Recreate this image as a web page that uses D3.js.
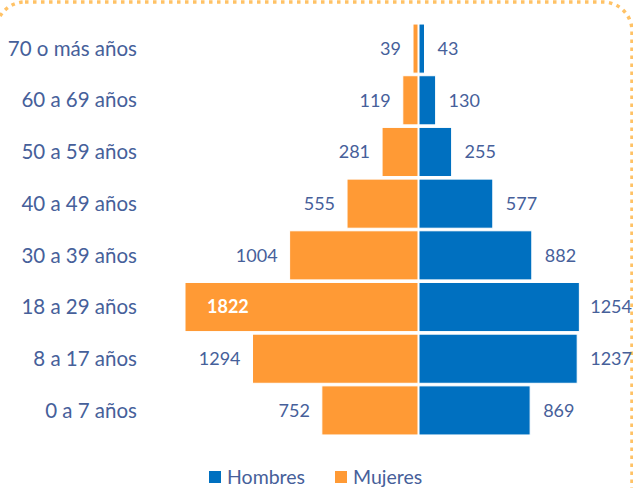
<!DOCTYPE html>
<html>
<head>
<meta charset="utf-8">
<script src="https://cdn.jsdelivr.net/npm/d3@7"></script>
<style>
  html, body { margin: 0; padding: 0; background: #fff; }
  svg { display: block; font-family: Lato, "Open Sans", sans-serif; }
</style>
</head>
<body>
<svg width="633" height="488"></svg>
<script>
// Chart data
var ageGroups = ["70 o más años", "60 a 69 años", "50 a 59 años", "40 a 49 años",
                 "30 a 39 años", "18 a 29 años", "8 a 17 años", "0 a 7 años"];
var hombres = [43, 130, 255, 577, 882, 1254, 1237, 869];
var mujeres = [39, 119, 281, 555, 1004, 1822, 1294, 752];
var seriesNames = ["Hombres", "Mujeres"];

var colorHombres = "#0070C0";
var colorMujeres = "#FF9A35";
var textColor = "#46609A";

var svg = d3.select("svg"),
    width = +svg.attr("width"),
    height = +svg.attr("height");

var centerX = 418;

// dotted frame
svg.append("rect")
    .attr("x", -4).attr("y", 2)
    .attr("width", 636).attr("height", 620)
    .attr("rx", 29).attr("ry", 29)
    .attr("fill", "none")
    .attr("stroke", "#FFC266")
    .attr("stroke-width", 3.5)
    .attr("stroke-dasharray", "3.5 4.5");

var y = d3.scaleBand()
    .domain(ageGroups)
    .range([23, 436])
    .paddingInner(0.05)
    .paddingOuter(0.02);

var x = d3.scaleLinear()
    .domain([0, 1822])
    .range([0, 233]);

var rows = ageGroups.map(function (g, i) {
    return { group: g, h: hombres[i], m: mujeres[i] };
});

// category labels
svg.selectAll(".cat")
    .data(rows)
    .enter()
    .append("text")
    .attr("class", "cat")
    .attr("x", 137)
    .attr("y", d => y(d.group) + y.bandwidth() / 2)
    .attr("dy", ".35em")
    .attr("text-anchor", "end")
    .attr("font-size", "20.5px")
    .attr("fill", textColor)
    .text(d => d.group);

// Mujeres bars (left)
svg.selectAll(".bar-m")
    .data(rows)
    .enter()
    .append("rect")
    .attr("class", "bar-m")
    .attr("x", d => centerX - x(d.m))
    .attr("y", d => y(d.group))
    .attr("width", d => x(d.m))
    .attr("height", y.bandwidth())
    .attr("fill", colorMujeres)
    .attr("stroke", "#fff")
    .attr("stroke-width", 1);

// Hombres bars (right)
svg.selectAll(".bar-h")
    .data(rows)
    .enter()
    .append("rect")
    .attr("class", "bar-h")
    .attr("x", centerX + 1)
    .attr("y", d => y(d.group))
    .attr("width", d => x(d.h))
    .attr("height", y.bandwidth())
    .attr("fill", colorHombres)
    .attr("stroke", "#fff")
    .attr("stroke-width", 1);

// value labels, mujeres (largest one sits inside its bar)
var maxM = d3.max(mujeres);
svg.selectAll(".lbl-m")
    .data(rows)
    .enter()
    .append("text")
    .attr("class", "lbl-m")
    .attr("x", function (d) {
        if (d.m === maxM) { return centerX - x(d.m) + 22; }
        return centerX - x(d.m) - 12;
    })
    .attr("y", d => y(d.group) + y.bandwidth() / 2)
    .attr("dy", ".35em")
    .attr("text-anchor", d => d.m === maxM ? "start" : "end")
    .attr("font-size", "18px")
    .attr("font-weight", d => d.m === maxM ? "bold" : "normal")
    .attr("fill", d => d.m === maxM ? "#fff" : textColor)
    .text(d => d.m);

// value labels, hombres
svg.selectAll(".lbl-h")
    .data(rows)
    .enter()
    .append("text")
    .attr("class", "lbl-h")
    .attr("y", d => y(d.group) + y.bandwidth() / 2)
    .attr("dy", ".35em")
    .attr("font-size", "18px")
    .attr("fill", textColor)
    .text(d => d.h)
    .attr("x", function (d) {
        var w = this.getComputedTextLength();
        return Math.min(centerX + 1 + x(d.h) + 13, width - w - 1);
    });

// legend
var legendX = [209, 335];
var legend = svg.selectAll(".legend")
    .data(seriesNames)
    .enter()
    .append("g")
    .attr("class", "legend")
    .attr("transform", (d, i) => "translate(" + legendX[i] + ",471)");

legend.append("rect")
    .attr("width", 12)
    .attr("height", 12)
    .attr("fill", (d, i) => i === 0 ? colorHombres : colorMujeres);

legend.append("text")
    .attr("x", 18)
    .attr("y", 6)
    .attr("dy", ".35em")
    .attr("font-size", "19.5px")
    .attr("fill", textColor)
    .text(d => d);
</script>
</body>
</html>
